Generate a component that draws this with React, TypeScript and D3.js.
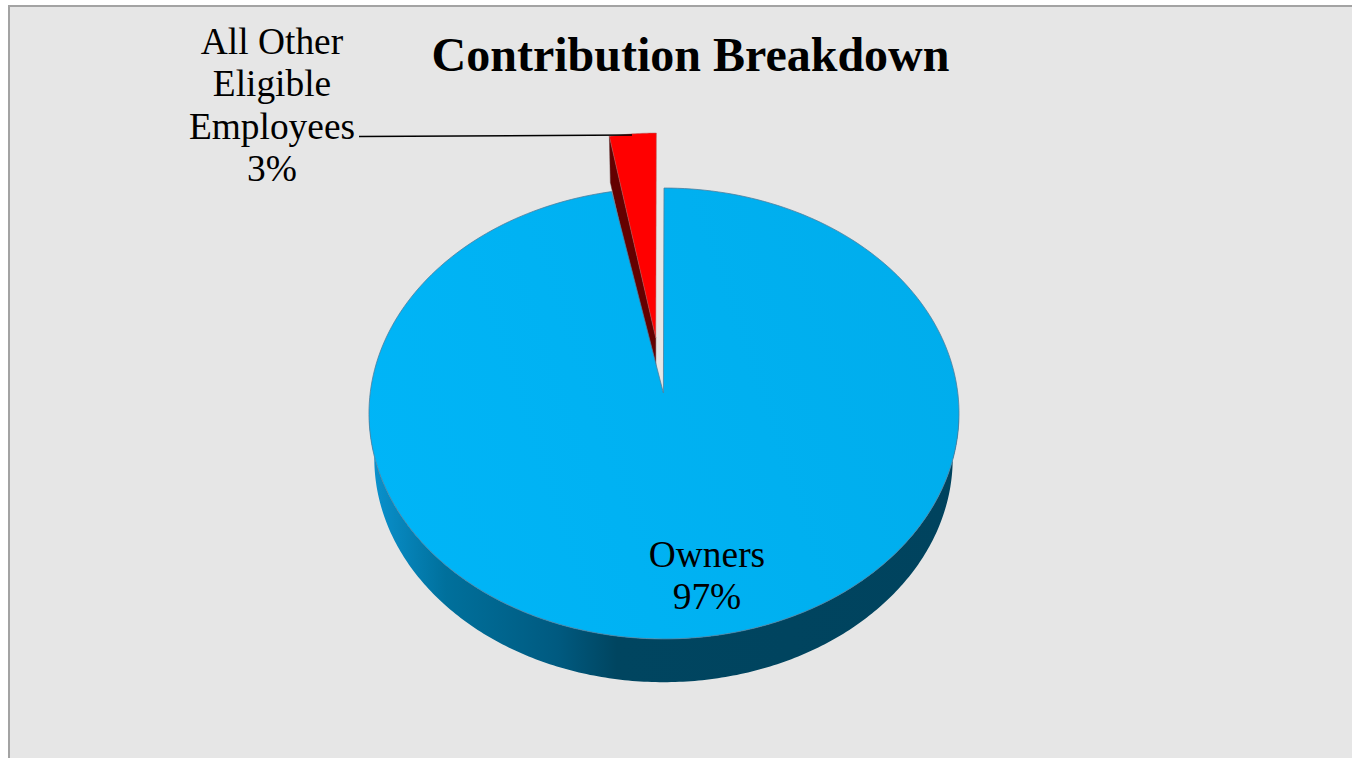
import React from "react";
import * as d3 from "d3";

const W = 1352;
const H = 758;

const categories = ["Owners", "All Other Eligible Employees"];
const shares = [97, 3];
const sliceFaces = ["url(#faceBlue)", "#ff0000"];
const titleText = "Contribution Breakdown";
const ownersLabel = ["Owners", "97%"];
const otherLabel = ["All Other", "Eligible", "Employees", "3%"];

// Perspective of the tilted disc
const persp = 0.0909;
const top = { cx: 664, cy: 393, rx: 293.8, ry: 223.6 };
const bottom = { cx: 663.5, cy: 438, rx: 288, ry: 222 };
const apexX = 663.4;
// Small angular gap left by the pulled-out slice
const sliceGap = 0.007;
// The pulled-out slice sits further back, so it is foreshortened a little
const explode = { dx: -7.6, dy: -55, depth: 46, shrink: 0.93 };

type Disc = typeof top;
const project = (d: Disc, a: number): [number, number] => {
  const X = Math.sin(a);
  const Y = Math.cos(a);
  const f = 1 + persp * Y;
  return [d.cx + (d.rx * X) / f, d.cy - (d.ry * Y) / f];
};
const arcPoints = (d: Disc, a0: number, a1: number, n = 240): [number, number][] =>
  d3.range(n + 1).map((i) => project(d, a0 + ((a1 - a0) * i) / n));

const closed = d3.line().curve(d3.curveLinearClosed);

const pieData = d3
  .pie<number>()
  .sort(null)
  .startAngle(0)
  .endAngle(2 * Math.PI)(shares);

export default function App() {
  const [owners, other] = pieData;

  const ownersFace = closed([
    [apexX, top.cy],
    ...arcPoints(top, owners.startAngle, owners.endAngle - sliceGap),
  ]) as string;

  const wallA0 = Math.acos(-persp);
  const wallA1 = 2 * Math.PI - wallA0;
  const ownersWall = closed([
    ...arcPoints(top, wallA0, wallA1),
    ...arcPoints(bottom, wallA0, wallA1).reverse(),
  ]) as string;

  const tip: [number, number] = [apexX + explode.dx, top.cy + explode.dy];
  const otherArc = arcPoints(top, other.startAngle, other.endAngle, 20).map(
    (p): [number, number] => [
      tip[0] + (p[0] + explode.dx - tip[0]) * explode.shrink,
      p[1] + explode.dy,
    ]
  );
  const otherFace = closed([tip, ...otherArc]) as string;
  const outer = otherArc[0];
  const otherWall = closed([
    tip,
    outer,
    [outer[0] + 1, outer[1] + explode.depth],
    [tip[0], tip[1] + explode.depth],
  ]) as string;

  const serif = "'Liberation Serif', 'Times New Roman', serif";

  return (
    <svg
      width={W}
      height={H}
      viewBox={`0 0 ${W} ${H}`}
      style={{ position: "absolute", left: 0, top: 0, display: "block" }}
    >
      <defs>
        <linearGradient id="faceBlue" gradientUnits="userSpaceOnUse" x1="369" y1="500" x2="959" y2="300">
          <stop offset="0" stopColor="#00b5f7" />
          <stop offset="1" stopColor="#00adec" />
        </linearGradient>
        <linearGradient id="wallBlue" gradientUnits="userSpaceOnUse" x1="369" y1="0" x2="959" y2="0">
          <stop offset="0" stopColor="#0a93d0" />
          <stop offset="0.13" stopColor="#00709c" />
          <stop offset="0.32" stopColor="#005a80" />
          <stop offset="0.42" stopColor="#004560" />
          <stop offset="1" stopColor="#00435e" />
        </linearGradient>
      </defs>

      <rect x={0} y={0} width={W} height={H} fill="#ffffff" />
      <rect x={9} y={6} width={W} height={H} fill="#e6e6e6" stroke="#a3a3a3" strokeWidth={2} />

      <path d={ownersWall} fill="url(#wallBlue)" />
      <path d={otherWall} fill="#640000" stroke="#5a3030" strokeWidth={0.5} />
      <path d={otherFace} fill={sliceFaces[1]} stroke="#b06060" strokeWidth={0.5} />
      <path d={ownersFace} fill={sliceFaces[0]} stroke="#4d7f9e" strokeWidth={0.8} strokeLinejoin="round">
        <title>{categories[0]}</title>
      </path>

      <line x1={359} y1={136.5} x2={632} y2={135} stroke="#000000" strokeWidth={1.5} />

      <text x={690.5} y={71} textAnchor="middle" fontFamily={serif} fontWeight={700} fontSize={48} fill="#000">
        {titleText}
      </text>
      {otherLabel.map((t, i) => (
        <text key={t} x={272} y={53.5 + i * 42.5} textAnchor="middle" fontFamily={serif} fontSize={37.4} fill="#000">
          {t}
        </text>
      ))}
      {ownersLabel.map((t, i) => (
        <text key={t} x={707} y={566.5 + i * 42.5} textAnchor="middle" fontFamily={serif} fontSize={37.4} fill="#000">
          {t}
        </text>
      ))}
    </svg>
  );
}
